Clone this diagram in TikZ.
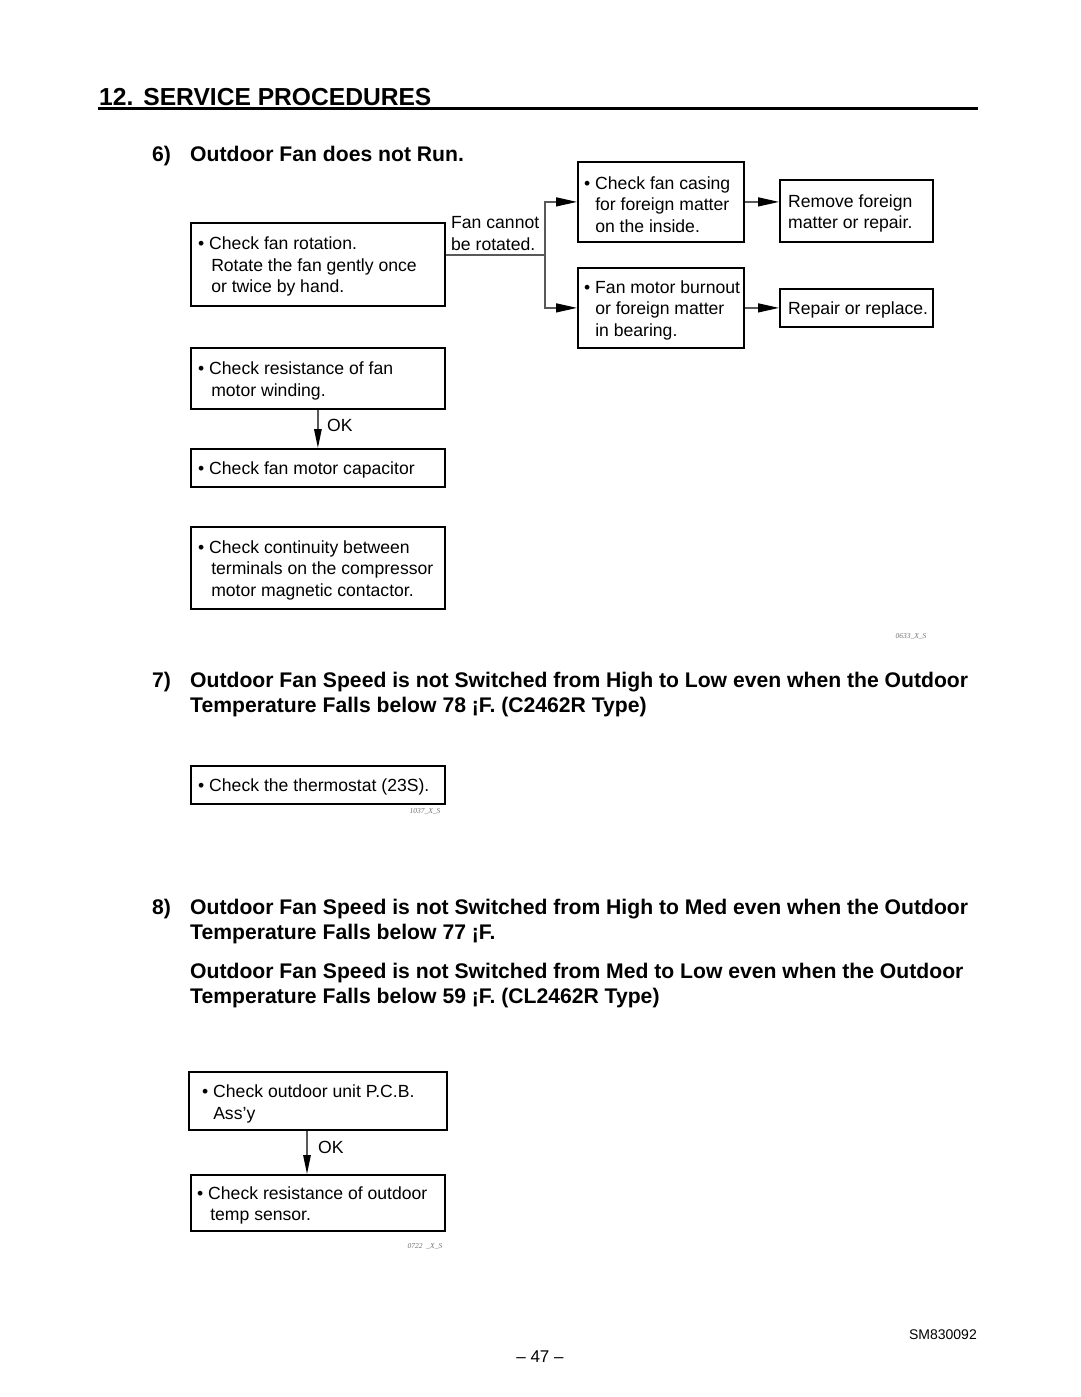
\documentclass[tikz,border=0pt]{standalone}
\usepackage{fontspec}
\setmainfont{Liberation Sans}
\newfontfamily\tagfont{Liberation Serif}
\usetikzlibrary{arrows.meta,calc}
\newcommand{\bltx}{\textbullet\ }
\newcommand{\indt}{\hphantom{\textbullet\ }\hspace*{2pt}}
\begin{document}
\begin{tikzpicture}[x=1pt,y=-1pt,
 box/.style={draw=black, line width=1.8pt, anchor=north west, inner sep=0pt},
 txt/.style={anchor=west, align=left, inner sep=0pt, font=\fontsize{17.6}{21.5}\selectfont},
 btxt/.style={txt, yshift=-2.5pt},
 conn/.style={draw=black!65, line width=1.3pt},
 arrh/.style={conn, -{Triangle[length=21pt,width=9pt,black]}},
 arrv/.style={conn, -{Triangle[length=19pt,width=7.5pt,black]}},
 head/.style={anchor=base west, inner sep=0pt, font=\fontsize{21.15}{25}\selectfont\bfseries},
 tag/.style={anchor=center, inner sep=0pt, text=black!55, font=\tagfont\itshape\fontsize{7.5}{9}\selectfont},
 foot/.style={inner sep=0pt, font=\fontsize{14}{17}\selectfont}
]
\useasboundingbox (0,0) rectangle (1080,1397);
\fill[white] (0,0) rectangle (1080,1397);

% title
\node[anchor=base west, inner sep=0pt, font=\fontsize{24.6}{28}\selectfont\bfseries] (title) at (99,105) {12.\hspace{10pt}SERVICE PROCEDURES};
\draw[line width=3.5pt] (98,108.5) -- (978,108.5);

% section 6
\node[head] (h6n) at (152,161.5) {6)};
\node[head] (h6) at (190,161.5) {Outdoor Fan does not Run.};

\node[box, minimum width=254pt, minimum height=83pt] (b1) at (190,222) {};
\node[btxt] (t1) at ([xshift=8pt]b1.west) {\bltx Check fan rotation.\\\indt Rotate the fan gently once\\\indt or twice by hand.};

\node[box, minimum width=166pt, minimum height=80pt] (b2) at (577,161) {};
\node[btxt] (t2) at ([xshift=7pt]b2.west) {\bltx Check fan casing\\\hphantom{\textbullet\ }for foreign matter\\\hphantom{\textbullet\ }on the inside.};

\node[box, minimum width=166pt, minimum height=80pt] (b3) at (577,267) {};
\node[btxt] (t3) at ([xshift=7pt]b3.west) {\bltx Fan motor burnout\\\hphantom{\textbullet\ }or foreign matter\\\hphantom{\textbullet\ }in bearing.};

\node[box, minimum width=153pt, minimum height=62pt] (b4) at (779,179) {};
\node[btxt] (t4) at ([xshift=9pt]b4.west) {Remove foreign\\matter or repair.};

\node[box, minimum width=153pt, minimum height=38pt] (b5) at (779,288) {};
\node[btxt] (t5) at ([xshift=9pt]b5.west) {Repair or replace.};

\node[txt] (lfan) at (451,233.5) {Fan cannot\\be rotated.};

\coordinate (j) at (545,255);
\draw[conn] (b1.east |- j) -- (j);
\draw[arrh] (j) |- (b2.west);
\draw[arrh] (j) |- (b3.west);
\draw[arrh] (b2.east) -- (b2.east -| b4.west);
\draw[arrh] (b3.east) -- (b5.west);

\node[box, minimum width=254pt, minimum height=61pt] (b6) at (190,347) {};
\node[btxt] (t6) at ([xshift=8pt]b6.west) {\bltx Check resistance of fan\\\indt motor winding.};

\node[box, minimum width=254pt, minimum height=38pt] (b7) at (190,448) {};
\node[btxt] (t7) at ([xshift=8pt]b7.west) {\bltx Check fan motor capacitor};

\draw[arrv] (b6.south) -- (b7.north);
\node[txt] (ok1) at (327,425) {OK};

\node[box, minimum width=254pt, minimum height=82pt] (b8) at (190,526) {};
\node[btxt] (t8) at ([xshift=8pt]b8.west) {\bltx Check continuity between\\\indt terminals on the compressor\\\indt motor magnetic contactor.};

\node[tag] (tag1) at (911,636) {0633\_X\_S};

% section 7
\node[head] (h7n) at (152,687.5) {7)};
\node[head] (h7a) at (190,687.5) {Outdoor Fan Speed is not Switched from High to Low even when the Outdoor};
\node[head] (h7b) at (190,712.5) {Temperature Falls below 78 ¡F. (C2462R Type)};

\node[box, minimum width=254pt, minimum height=38pt] (b9) at (190,765) {};
\node[btxt] (t9) at ([xshift=8pt]b9.west) {\bltx Check the thermostat (23S).};
\node[tag] (tag2) at (425,811) {1037\_X\_S};

% section 8
\node[head] (h8n) at (152,914.5) {8)};
\node[head] (h8a) at (190,914.5) {Outdoor Fan Speed is not Switched from High to Med even when the Outdoor};
\node[head] (h8b) at (190,939.5) {Temperature Falls below 77 ¡F.};
\node[head] (h8c) at (190,978.5) {Outdoor Fan Speed is not Switched from Med to Low even when the Outdoor};
\node[head] (h8d) at (190,1003.5) {Temperature Falls below 59 ¡F. (CL2462R Type)};

\node[box, line width=2.4pt, minimum width=258pt, minimum height=58pt] (b10) at (188,1071) {};
\node[btxt] (t10) at ([xshift=14pt]b10.west) {\bltx Check outdoor unit P.C.B.\\\hphantom{\textbullet\ }Ass’y};

\node[box, minimum width=254pt, minimum height=56pt] (b11) at (190,1174) {};
\node[btxt] (t11) at ([xshift=7pt]b11.west) {\bltx Check resistance of outdoor\\\indt temp sensor.};

\coordinate (ax) at (307,0);
\draw[arrv] (b10.south -| ax) -- (b11.north -| ax);
\node[txt] (ok2) at (318,1147) {OK};

\node[tag] (tag3) at (425,1246) {0722\ \ \_X\_S};

% footer
\node[foot, anchor=base east] (code) at (977,1339) {SM830092};
\node[foot, anchor=base, font=\fontsize{17}{20}\selectfont] (page) at (540,1362) {– 47 –};
\end{tikzpicture}
\end{document}
